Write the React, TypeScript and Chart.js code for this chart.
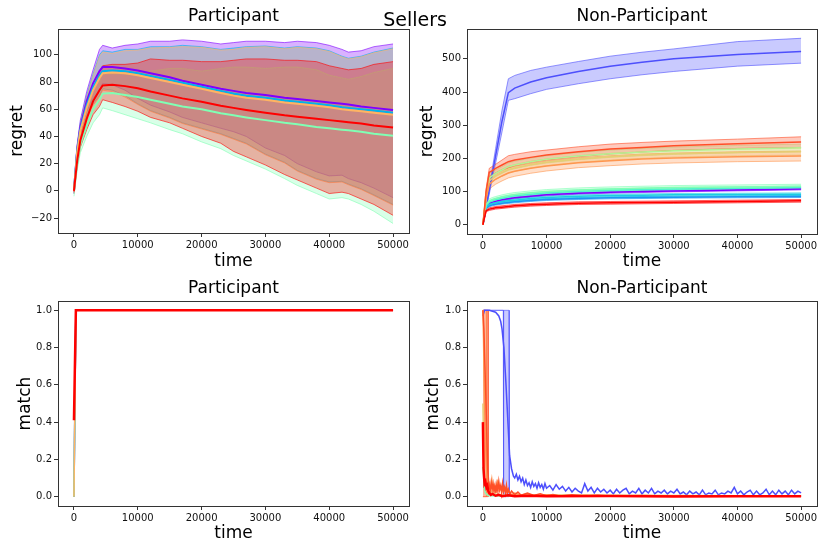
import { useEffect, useRef } from 'react';
import Chart from 'chart.js/auto';

type Pt = [number, number];

const FONT = 'DejaVu Sans';
Chart.defaults.font.family = FONT;

// axis ticks
const timeTicks = [0, 10000, 20000, 30000, 40000, 50000];
const regretTicksP = [-20, 0, 20, 40, 60, 80, 100];
const regretTicksN = [0, 100, 200, 300, 400, 500];
const matchTicks = [0, 0.2, 0.4, 0.6, 0.8, 1.0];

// rainbow colours
const PURPLE = '#8000ff';
const BLUE = '#4d4ffc';
const AZURE = '#1a96f3';
const SKY = '#00b4eb';
const CYAN = '#1acee3';
const AQUA = '#4df3ce';
const GREEN = '#80ffb4';
const LIME = '#b3f396';
const YELLOW = '#e6ce74';
const ORANGE_L = '#ffb462';
const ORANGE = '#ff964f';
const RED_ORANGE = '#ff4f28';
const RED = '#ff0000';

// ---------- Participant regret ----------
const pTimes = [0, 500, 1000, 2000, 3000, 4000, 4500, 6000, 8000, 10000, 12000, 15000, 17000, 20000, 23000, 25000, 27000, 30000, 33000, 35000, 38000, 40000, 42000, 43000, 45000, 47000, 50000];
const pPurpleMean = [0, 30, 47, 66, 79, 88, 91, 91, 90, 88.5, 86.5, 83.5, 81, 78, 75, 73.5, 72, 70.5, 68.5, 67.5, 66, 65, 64, 63.5, 62, 61, 59.5];
const pPurpleUp = [2, 34, 52, 73, 89, 104, 107, 105, 107, 108, 110, 110, 111, 110, 108, 109, 110, 110, 109, 110, 109, 107, 104, 102, 103, 106, 108];
const pPurpleLo = [-2, 26, 42, 58, 68, 74, 79, 78, 74, 68, 63, 58, 54, 50, 46, 43.5, 40, 31.5, 26, 20, 14, 11, 11.5, 9, 6, 2, -5];
const pSkyMean = [0, 29, 45, 63, 76, 85, 88, 88.5, 88, 86.5, 84.5, 81.5, 79.5, 76.5, 73.5, 71.5, 70, 68.5, 66.5, 65.5, 64, 63, 61.5, 61, 60, 59, 57.5];
const pSkyUp = [2, 33, 50, 70, 86, 100, 103, 102, 104, 104, 106, 106, 107, 106, 104, 105, 106, 106.5, 105, 106, 105, 103, 99, 97.5, 99, 102, 105];
const pSkyLo = [-2, 25, 40, 55, 64, 70, 75, 74, 70, 64, 59, 54, 50, 46, 42, 38.5, 35, 27, 21, 15, 9, 6.5, 7, 5, 1.5, -3, -10];
const pOrangeMean = [0, 28, 44, 61, 74, 83, 86.5, 87, 86.5, 85, 83, 80, 78, 75, 72, 70, 68.5, 67, 65, 64, 62.5, 61.5, 60, 59.5, 58.5, 57.5, 56];
const pOrangeUp = [2, 32, 49, 69, 85, 99, 102, 101, 103, 103.5, 105, 105.5, 106, 105.5, 103.5, 104, 105.5, 106, 104.5, 105.5, 104.5, 102.5, 98.5, 97, 98.5, 101.5, 104.5];
const pOrangeLo = [-2, 24, 39, 54, 63, 69, 74, 73, 69, 63.5, 58.5, 53.5, 49.5, 45.5, 41.5, 38, 34.5, 26.5, 20.5, 14.5, 8.5, 6, 6.5, 4.5, 1, -3.5, -10.5];
const pRedMean = [0, 22, 37, 53, 66, 74, 77.5, 78, 77, 75.5, 73, 70, 68, 65.5, 62.5, 61, 59.5, 57.5, 55.5, 54.5, 53, 52, 51, 50.5, 49.5, 48, 46.5];
const pRedUp = [1, 26, 42, 61, 74, 88, 92, 93, 93, 94, 97, 96, 96, 95, 95, 96, 97, 97, 96, 96, 95, 92, 90, 89, 90, 93, 95];
const pRedLo = [-1, 18, 32, 45, 56, 62, 67, 65, 62, 58.5, 54, 50, 46, 40, 35, 29, 25, 19, 12, 8, 2, -2, -1, -2, -6, -10, -18];
const pGreenMean = [0, 20, 34, 48, 60, 67, 71.5, 72, 70.5, 69, 67, 64, 62, 60, 57, 55.5, 54, 52, 50, 49, 47, 46, 45, 44.5, 43.5, 42, 40.5];
const pGreenUp = [1, 24, 40, 57, 69, 80, 86, 86, 86, 86, 88, 90, 90, 88, 90, 91, 91, 90, 91, 91, 89, 85, 83, 82, 84, 87, 90];
const pGreenLo = [-4, 15, 28, 40, 50, 56, 61, 59, 56, 53, 50, 45, 42, 36, 31, 26, 22, 16, 9, 4, -2, -6, -5, -6, -10, -15, -24];

// ---------- Non-Participant regret ----------
const nTimes = [0, 500, 1000, 1500, 2000, 3000, 4000, 5000, 7500, 10000, 15000, 20000, 25000, 30000, 40000, 50000];
const nPurpleMean = [0, 55, 64, 68, 71, 75, 78, 81, 86, 90, 95, 98, 100, 102, 105, 108];
const nPurpleUp = [0, 58, 67, 71, 74, 78, 81, 84, 89, 93, 98, 101, 103, 105, 108, 111];
const nPurpleLo = [0, 52, 61, 65, 68, 72, 75, 78, 83, 87, 92, 95, 97, 99, 102, 105];
const nBlueMean = [0, 52, 104, 156, 208, 312, 398, 412, 430, 443, 462, 478, 490, 500, 513, 522];
const nBlueUp = [0, 58, 115, 172, 230, 345, 440, 450, 465, 475, 492, 508, 520, 530, 552, 562];
const nBlueLo = [0, 46, 92, 140, 186, 280, 375, 380, 395, 408, 425, 440, 452, 462, 478, 487];
const nAzureMean = [0, 50, 57, 60, 62, 65, 67, 69, 73, 76, 79, 81, 82, 83, 84, 85];
const nAzureUp = [0, 53, 60, 63, 65, 68, 70, 72, 76, 79, 82, 84, 85, 86, 87, 88];
const nAzureLo = [0, 47, 54, 57, 59, 62, 64, 66, 70, 73, 76, 78, 79, 80, 81, 82];
const nCyanMean = [0, 53, 61, 64, 66, 70, 72, 74, 79, 82, 86, 88, 89, 90, 91, 92];
const nCyanUp = [0, 57, 65, 68, 70, 74, 76, 78, 83, 86, 90, 92, 93, 94, 95, 96];
const nCyanLo = [0, 49, 57, 60, 62, 66, 68, 70, 75, 78, 82, 84, 85, 86, 87, 88];
const nAquaMean = [0, 58, 68, 72, 75, 80, 84, 87, 92, 96, 101, 104, 106, 108, 110, 112];
const nAquaUp = [0, 62, 72, 76, 79, 84, 88, 91, 96, 100, 105, 108, 110, 112, 114, 116];
const nAquaLo = [0, 54, 64, 68, 71, 76, 80, 83, 88, 92, 97, 100, 102, 104, 106, 108];
const nGreenMean = [0, 62, 72, 76, 79, 84, 88, 91, 96, 100, 105, 108, 110, 112, 114, 116];
const nGreenUp = [0, 67, 78, 82, 85, 90, 94, 97, 102, 106, 111, 114, 116, 118, 120, 122];
const nGreenLo = [0, 57, 66, 70, 73, 78, 82, 85, 90, 94, 99, 102, 104, 106, 108, 110];
const nLimeMean = [0, 90, 140, 148, 155, 165, 175, 180, 190, 197, 207, 214, 219, 223, 228, 232];
const nLimeUp = [0, 96, 150, 158, 165, 175, 186, 191, 201, 208, 218, 225, 230, 234, 239, 243];
const nLimeLo = [0, 84, 130, 138, 145, 155, 164, 169, 179, 186, 196, 203, 208, 212, 217, 221];
const nYellowMean = [0, 86, 132, 140, 147, 157, 166, 171, 181, 188, 198, 205, 210, 214, 218, 220];
const nYellowUp = [0, 92, 142, 150, 157, 167, 176, 181, 191, 198, 208, 215, 220, 224, 228, 230];
const nYellowLo = [0, 80, 122, 130, 137, 147, 156, 161, 171, 178, 188, 195, 200, 204, 208, 210];
const nOrangeMean = [0, 80, 122, 130, 137, 147, 156, 161, 170, 177, 187, 193, 198, 201, 205, 207];
const nOrangeUp = [0, 90, 137, 145, 152, 162, 171, 176, 185, 192, 202, 208, 213, 216, 220, 222];
const nOrangeLo = [0, 70, 107, 115, 122, 132, 141, 146, 155, 162, 172, 178, 183, 186, 190, 192];
const nRedOrangeMean = [0, 100, 158, 163, 170, 180, 190, 195, 203, 210, 220, 228, 233, 238, 244, 249];
const nRedOrangeUp = [0, 108, 170, 176, 182, 195, 208, 212, 220, 225, 235, 243, 248, 252, 258, 265];
const nRedOrangeLo = [0, 92, 146, 150, 156, 165, 172, 178, 188, 195, 205, 213, 219, 224, 230, 233];
const nRedMean = [0, 42, 47, 49, 51, 53, 55, 57, 60, 62, 65, 66, 67, 68, 70, 72];
const nRedUp = [0, 45, 51, 53, 55, 57, 59, 61, 64, 66, 69, 70, 71, 72, 74, 76];
const nRedLo = [0, 39, 43, 45, 47, 49, 51, 53, 56, 58, 61, 62, 63, 64, 66, 68];

// ---------- Participant match ----------
const pmTimes = [0, 300, 50000];
const pmPurple = [0, 1, 1];
const pmSky = [0, 1, 1];
const pmGreen = [0, 1, 1];
const pmOrange = [0, 1, 1];
const pmRed = [0.41, 1, 1];

// ---------- Non-Participant match ----------
const nmBlueBandTimes = [0, 3200, 3250, 4100, 4150];
const nmBlueBandUp = [1, 1, 1, 1, 0];
const nmBlueBandLo = [1, 1, 0, 0, 0];
const nmRedOrangeBandTimes = [0, 800, 850];
const nmRedOrangeBandUp = [1, 1, 0];
const nmRedOrangeBandLo = [0, 0, 0];
const nmOrangeBandTimes = [0, 550, 600];
const nmOrangeBandUp = [1, 1, 0];
const nmOrangeBandLo = [0, 0, 0];

const nmBlue: Pt[] = [[0, 0.97], [250, 1.0], [500, 1.0], [1000, 1.0], [1500, 0.995], [2000, 0.99], [2500, 0.97], [2800, 0.94], [3000, 0.9], [3300, 0.8], [3600, 0.62], [3900, 0.42], [4200, 0.22], [4500, 0.15], [4800, 0.11],
  [5000, 0.1], [5250, 0.12], [5500, 0.09], [5750, 0.11], [6000, 0.08], [6250, 0.1], [6500, 0.065], [6750, 0.09], [7000, 0.06], [7250, 0.075], [7500, 0.05], [7750, 0.08], [8000, 0.055], [8250, 0.07], [8500, 0.045], [8750, 0.075], [9000, 0.05], [9250, 0.065], [9500, 0.04], [9750, 0.07], [10000, 0.045],
  [10500, 0.06], [11000, 0.035], [11500, 0.065], [12000, 0.04], [12500, 0.055], [13000, 0.03], [13500, 0.05], [14000, 0.025], [14500, 0.045], [15000, 0.03], [15500, 0.02], [16000, 0.07], [16500, 0.03], [17000, 0.05], [17500, 0.02], [18000, 0.045], [18500, 0.025], [19000, 0.04], [19500, 0.02], [20000, 0.035],
  [20500, 0.015], [21000, 0.04], [21500, 0.02], [22000, 0.035], [22500, 0.045], [23000, 0.015], [23500, 0.03], [24000, 0.02], [24500, 0.045], [25000, 0.015], [25500, 0.035], [26000, 0.02], [26500, 0.045], [27000, 0.015], [27500, 0.03], [28000, 0.02], [28500, 0.035], [29000, 0.015], [29500, 0.03], [30000, 0.02],
  [30500, 0.04], [31000, 0.015], [31500, 0.025], [32000, 0.01], [32500, 0.03], [33000, 0.015], [33500, 0.025], [34000, 0.01], [34500, 0.035], [35000, 0.01], [35500, 0.02], [36000, 0.015], [36500, 0.035], [37000, 0.01], [37500, 0.02], [38000, 0.015], [38500, 0.03], [39000, 0.02], [39500, 0.05], [40000, 0.015],
  [40500, 0.03], [41000, 0.01], [41500, 0.025], [42000, 0.035], [42500, 0.01], [43000, 0.03], [43500, 0.01], [44000, 0.02], [44500, 0.04], [45000, 0.01], [45500, 0.03], [46000, 0.01], [46500, 0.035], [47000, 0.015], [47500, 0.03], [48000, 0.01], [48500, 0.035], [49000, 0.015], [49500, 0.03], [50000, 0.02]];
const nmGreen: Pt[] = [[0, 0.16], [100, 0.12], [200, 0.05], [400, 0.02], [700, 0.01], [1000, 0.005], [3000, 0.003], [50000, 0.002]];
const nmYellow: Pt[] = [[0, 0.5], [100, 0.3], [250, 0.1], [500, 0.06], [800, 0.04], [1000, 0.05], [1300, 0.02], [1600, 0.04], [2000, 0.015], [3000, 0.01], [50000, 0.004]];
const nmOrange: Pt[] = [[0, 1.0], [100, 0.85], [200, 0.6], [300, 0.45], [400, 0.3], [500, 0.2], [600, 0.12], [700, 0.08], [850, 0.05], [1000, 0.07], [1200, 0.04], [1400, 0.09], [1600, 0.03], [1800, 0.06], [2000, 0.04], [2300, 0.08], [2600, 0.03], [2900, 0.05], [3200, 0.025], [3500, 0.045], [3800, 0.02], [4100, 0.03], [4500, 0.01], [5000, 0.02], [6000, 0.008], [7000, 0.015], [8000, 0.005], [10000, 0.01], [13000, 0.004], [16000, 0.008], [20000, 0.003], [30000, 0.005], [40000, 0.003], [50000, 0.004]];
const nmRedOrange: Pt[] = [[0, 1.0], [150, 0.9], [300, 0.72], [450, 0.55], [600, 0.35], [750, 0.15], [900, 0.08], [1000, 0.06], [1150, 0.03], [1300, 0.075], [1450, 0.04], [1600, 0.07], [1750, 0.03], [1900, 0.06], [2050, 0.02], [2200, 0.065], [2350, 0.03], [2500, 0.08], [2650, 0.04], [2800, 0.06], [2950, 0.02], [3100, 0.07], [3250, 0.03], [3400, 0.05], [3550, 0.02], [3700, 0.06], [3850, 0.02], [4000, 0.04], [4250, 0.015], [4500, 0.03], [5000, 0.01], [5500, 0.025], [6000, 0.008], [7000, 0.02], [8000, 0.006], [9000, 0.015], [10000, 0.005], [11000, 0.012], [12000, 0.004], [14000, 0.01], [16000, 0.004], [18000, 0.008], [20000, 0.003], [25000, 0.006], [30000, 0.003], [35000, 0.005], [40000, 0.003], [45000, 0.004], [50000, 0.003]];
const nmRed: Pt[] = [[0, 0.4], [100, 0.15], [250, 0.07], [400, 0.08], [550, 0.05], [700, 0.06], [850, 0.03], [1000, 0.02], [1250, 0.01], [1500, 0.015], [2000, 0.005], [2500, 0.01], [3000, 0.003], [4000, 0.008], [5000, 0.002], [7000, 0.005], [10000, 0.002], [20000, 0.003], [30000, 0.001], [40000, 0.002], [50000, 0.002]];

interface Band { color: string; lower: Pt[]; upper: Pt[] }
interface Line { color: string; pts: Pt[]; width: number }

const zip = (t: number[], v: number[]): Pt[] => t.map((x, i) => [x, v[i]]);
const toXY = (pts: Pt[]) => pts.map(([x, y]) => ({ x, y }));

function alpha(hex: string, a: number) {
  const n = parseInt(hex.slice(1), 16);
  return `rgba(${(n >> 16) & 255},${(n >> 8) & 255},${n & 255},${a})`;
}

function buildDatasets(bands: Band[], lines: Line[]) {
  const out: any[] = [];
  bands.forEach((b, i) => {
    out.push({ data: toXY(b.lower), borderColor: alpha(b.color, 0.6), borderWidth: 1, pointRadius: 0, fill: false, order: 1000 - 2 * i });
    out.push({ data: toXY(b.upper), borderColor: alpha(b.color, 0.6), borderWidth: 1, pointRadius: 0, fill: '-1', backgroundColor: alpha(b.color, 0.3), order: 999 - 2 * i });
  });
  lines.forEach((l, i) => {
    out.push({ data: toXY(l.pts), borderColor: l.color, borderWidth: l.width, pointRadius: 0, fill: false, order: 100 - i });
  });
  return out;
}

const signed = (v: number) => (v < 0 ? '\u2212' + Math.abs(v) : String(v));

interface PanelProps {
  left: number;
  top: number;
  title: string;
  yLabel: string;
  yMin: number;
  yMax: number;
  yTicks: number[];
  yFmt: (v: number) => string;
  bands: Band[];
  lines: Line[];
  box: { l: number; r: number; t: number; b: number };
  titlePad: number;
  xLabelPad: number;
  yLabelPad: number;
}

function Panel(p: PanelProps) {
  const ref = useRef<HTMLCanvasElement>(null);

  useEffect(() => {
    if (!ref.current) return;
    const tickFont = { family: FONT, size: 10 };
    const labelFont = { family: FONT, size: 17 };
    const border = { display: true, color: '#333', width: 1 };
    const chart = new Chart(ref.current, {
      type: 'line',
      data: { datasets: buildDatasets(p.bands, p.lines) },
      options: {
        animation: false,
        responsive: false,
        events: [],
        layout: { padding: 0, autoPadding: false },
        plugins: { legend: { display: false }, tooltip: { enabled: false } },
        scales: {
          x: {
            type: 'linear',
            position: 'bottom',
            min: -2500,
            max: 52500,
            afterBuildTicks: (s: any) => { s.ticks = timeTicks.map((v) => ({ value: v })); },
            afterFit: (s: any) => { s.height = p.box.b; },
            ticks: { font: tickFont, color: '#111', maxRotation: 0, autoSkip: false, padding: 2, callback: (v: any) => String(v) },
            grid: { drawOnChartArea: false, drawTicks: true, tickLength: 4, color: '#333' },
            border,
            title: { display: true, text: 'time', font: labelFont, color: '#000', padding: { top: 0, bottom: p.xLabelPad } },
          },
          x2: {
            type: 'linear',
            position: 'top',
            min: -2500,
            max: 52500,
            afterFit: (s: any) => { s.height = p.box.t; },
            ticks: { display: false },
            grid: { display: false },
            border,
            title: { display: true, text: p.title, font: labelFont, color: '#000', padding: { top: p.titlePad, bottom: 0 } },
          },
          y: {
            type: 'linear',
            position: 'left',
            min: p.yMin,
            max: p.yMax,
            afterBuildTicks: (s: any) => { s.ticks = p.yTicks.map((v) => ({ value: v })); },
            afterFit: (s: any) => { s.width = p.box.l; },
            ticks: { font: tickFont, color: '#111', autoSkip: false, padding: 2, callback: (v: any) => p.yFmt(Number(v)) },
            grid: { drawOnChartArea: false, drawTicks: true, tickLength: 4, color: '#333' },
            border,
            title: { display: true, text: p.yLabel, font: labelFont, color: '#000', padding: { top: p.yLabelPad, bottom: 0 } },
          },
          y2: {
            type: 'linear',
            position: 'right',
            min: p.yMin,
            max: p.yMax,
            afterFit: (s: any) => { s.width = p.box.r; },
            ticks: { display: false },
            grid: { display: false },
            border,
          },
        },
      },
    });
    return () => chart.destroy();
  }, []);

  return (
    <canvas
      ref={ref}
      width={415}
      height={277}
      style={{ position: 'absolute', left: p.left, top: p.top, width: 415, height: 277 }}
    />
  );
}

export default function App() {
  const pRegretBands: Band[] = [
    { color: PURPLE, lower: zip(pTimes, pPurpleLo), upper: zip(pTimes, pPurpleUp) },
    { color: SKY, lower: zip(pTimes, pSkyLo), upper: zip(pTimes, pSkyUp) },
    { color: GREEN, lower: zip(pTimes, pGreenLo), upper: zip(pTimes, pGreenUp) },
    { color: ORANGE_L, lower: zip(pTimes, pOrangeLo), upper: zip(pTimes, pOrangeUp) },
    { color: RED, lower: zip(pTimes, pRedLo), upper: zip(pTimes, pRedUp) },
  ];
  const pRegretLines: Line[] = [
    { color: PURPLE, pts: zip(pTimes, pPurpleMean), width: 2 },
    { color: SKY, pts: zip(pTimes, pSkyMean), width: 2 },
    { color: GREEN, pts: zip(pTimes, pGreenMean), width: 2 },
    { color: ORANGE_L, pts: zip(pTimes, pOrangeMean), width: 2 },
    { color: RED, pts: zip(pTimes, pRedMean), width: 2 },
  ];

  const nSeries: [string, number[], number[], number[]][] = [
    [PURPLE, nPurpleMean, nPurpleLo, nPurpleUp],
    [BLUE, nBlueMean, nBlueLo, nBlueUp],
    [AZURE, nAzureMean, nAzureLo, nAzureUp],
    [CYAN, nCyanMean, nCyanLo, nCyanUp],
    [AQUA, nAquaMean, nAquaLo, nAquaUp],
    [GREEN, nGreenMean, nGreenLo, nGreenUp],
    [LIME, nLimeMean, nLimeLo, nLimeUp],
    [YELLOW, nYellowMean, nYellowLo, nYellowUp],
    [ORANGE, nOrangeMean, nOrangeLo, nOrangeUp],
    [RED_ORANGE, nRedOrangeMean, nRedOrangeLo, nRedOrangeUp],
    [RED, nRedMean, nRedLo, nRedUp],
  ];
  const nRegretBands: Band[] = nSeries.map(([c, , lo, up]) => ({ color: c, lower: zip(nTimes, lo), upper: zip(nTimes, up) }));
  const nRegretLines: Line[] = nSeries.map(([c, m]) => ({ color: c, pts: zip(nTimes, m), width: 1.5 }));

  const pMatchLines: Line[] = [
    { color: PURPLE, pts: zip(pmTimes, pmPurple), width: 1.5 },
    { color: SKY, pts: zip(pmTimes, pmSky), width: 1.5 },
    { color: GREEN, pts: zip(pmTimes, pmGreen), width: 1.5 },
    { color: ORANGE_L, pts: zip(pmTimes, pmOrange), width: 1.5 },
    { color: RED, pts: zip(pmTimes, pmRed), width: 2.5 },
  ];

  const nMatchBands: Band[] = [
    { color: BLUE, lower: zip(nmBlueBandTimes, nmBlueBandLo), upper: zip(nmBlueBandTimes, nmBlueBandUp) },
    { color: ORANGE, lower: zip(nmOrangeBandTimes, nmOrangeBandLo), upper: zip(nmOrangeBandTimes, nmOrangeBandUp) },
    { color: RED_ORANGE, lower: zip(nmRedOrangeBandTimes, nmRedOrangeBandLo), upper: zip(nmRedOrangeBandTimes, nmRedOrangeBandUp) },
  ];
  const nMatchLines: Line[] = [
    { color: BLUE, pts: nmBlue, width: 1.5 },
    { color: GREEN, pts: nmGreen, width: 1.5 },
    { color: YELLOW, pts: nmYellow, width: 1.5 },
    { color: ORANGE, pts: nmOrange, width: 1.5 },
    { color: RED_ORANGE, pts: nmRedOrange, width: 1.5 },
    { color: RED, pts: nmRed, width: 2.5 },
  ];

  const matchFmt = (v: number) => v.toFixed(1);

  return (
    <div style={{ position: 'fixed', left: 0, top: 0, width: 830, height: 554, background: '#fff', overflow: 'hidden' }}>
      <Panel left={0} top={0} title="Participant" yLabel="regret" yMin={-31} yMax={119} yTicks={regretTicksP} yFmt={signed}
        bands={pRegretBands} lines={pRegretLines} box={{ l: 58, r: 6, t: 29, b: 44 }} titlePad={6} xLabelPad={5} yLabelPad={7} />
      <Panel left={415} top={0} title="Non-Participant" yLabel="regret" yMin={-28} yMax={590} yTicks={regretTicksN} yFmt={signed}
        bands={nRegretBands} lines={nRegretLines} box={{ l: 52, r: 13, t: 29, b: 43 }} titlePad={6} xLabelPad={5} yLabelPad={2} />
      <Panel left={0} top={277} title="Participant" yLabel="match" yMin={-0.05} yMax={1.05} yTicks={matchTicks} yFmt={matchFmt}
        bands={[]} lines={pMatchLines} box={{ l: 58, r: 6, t: 24, b: 48 }} titlePad={1.5} xLabelPad={10} yLabelPad={15} />
      <Panel left={415} top={277} title="Non-Participant" yLabel="match" yMin={-0.05} yMax={1.05} yTicks={matchTicks} yFmt={matchFmt}
        bands={nMatchBands} lines={nMatchLines} box={{ l: 52, r: 13, t: 24, b: 48 }} titlePad={1.5} xLabelPad={10} yLabelPad={8} />
      <div style={{ position: 'absolute', left: 0, top: 8, width: 830, textAlign: 'center', fontFamily: FONT, fontSize: 19, lineHeight: '22px', color: '#000' }}>
        Sellers
      </div>
    </div>
  );
}
